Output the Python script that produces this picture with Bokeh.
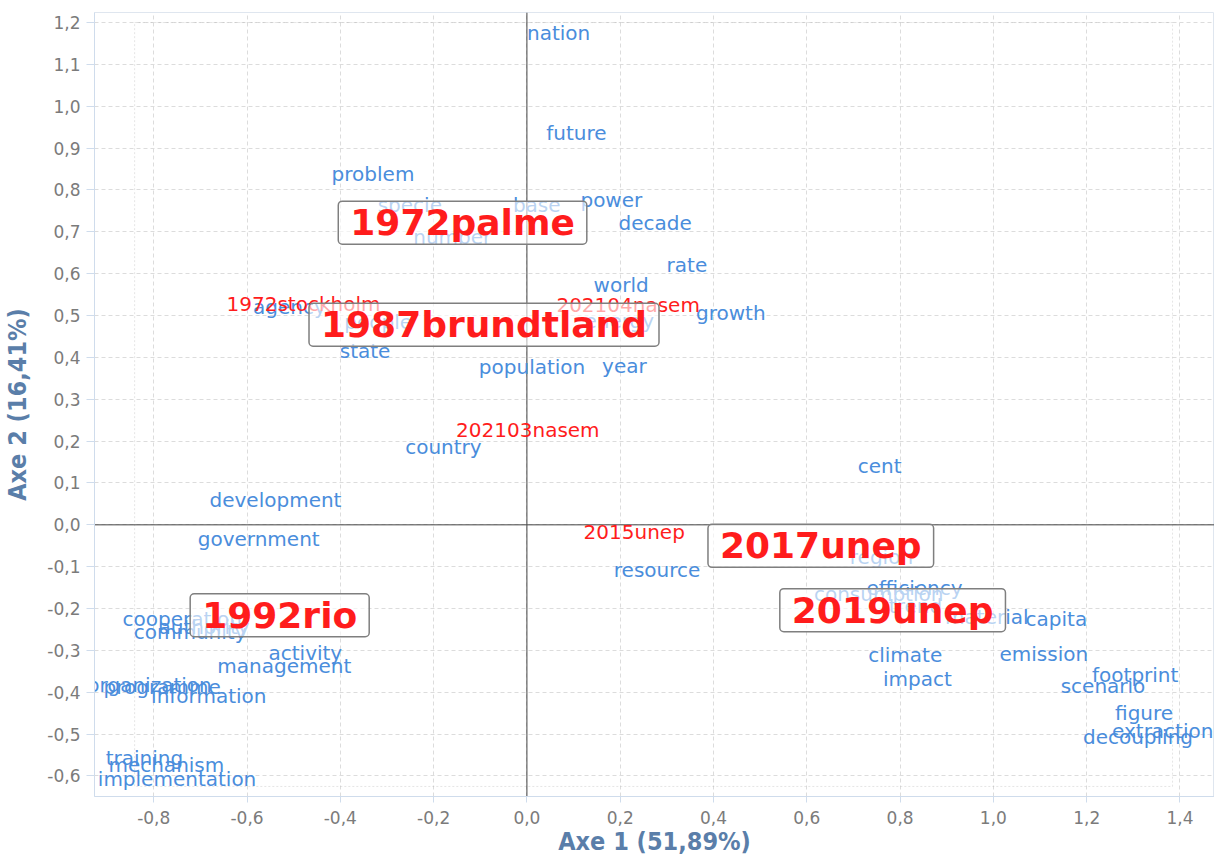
from bokeh.plotting import figure
from bokeh.models import ColumnDataSource, Range1d, FixedTicker, Span, BoxAnnotation
from bokeh.core.properties import value
from bokeh.embed import file_html
from bokeh.resources import INLINE

# ---- data ----
words = ["nation", "future", "problem", "specie", "base", "power", "decade", "number",
         "rate", "world", "agency", "people", "energy", "growth", "state", "population",
         "year", "country", "cent", "development", "government", "resource", "region",
         "consumption", "efficiency", "trend", "material", "capita", "climate", "emission",
         "impact", "footprint", "scenario", "figure", "extraction", "decoupling",
         "cooperation", "authority", "community", "activity", "management", "organization",
         "programme", "information", "training", "mechanism", "implementation"]
word_x = [0.068, 0.106, -0.330, -0.251, 0.021, 0.181, 0.275, -0.160,
          0.343, 0.202, -0.509, -0.319, 0.198, 0.437, -0.347, 0.011,
          0.209, -0.179, 0.756, -0.539, -0.575, 0.279, 0.760,
          0.754, 0.831, 0.833, 0.986, 1.135, 0.811, 1.108,
          0.837, 1.304, 1.235, 1.323, 1.363, 1.310,
          -0.739, -0.692, -0.722, -0.475, -0.520, -0.809,
          -0.782, -0.682, -0.820, -0.773, -0.750]
word_y = [1.176, 0.936, 0.839, 0.765, 0.765, 0.777, 0.722, 0.687,
          0.620, 0.573, 0.520, 0.485, 0.487, 0.506, 0.416, 0.378,
          0.380, 0.185, 0.140, 0.059, -0.033, -0.107, -0.078,
          -0.166, -0.150, -0.193, -0.221, -0.226, -0.311, -0.309,
          -0.368, -0.359, -0.385, -0.449, -0.492, -0.506,
          -0.226, -0.245, -0.257, -0.307, -0.337, -0.383,
          -0.387, -0.409, -0.558, -0.573, -0.608]

docs_small = ["1972stockholm", "202104nasem", "202103nasem", "2015unep"]
docs_small_x = [-0.479, 0.217, 0.002, 0.230]
docs_small_y = [0.528, 0.525, 0.226, -0.017]

docs_big = ["1972palme", "1987brundtland", "2017unep", "2019unep", "1992rio"]
docs_big_x = [-0.138, -0.092, 0.630, 0.784, -0.530]
docs_big_y = [0.722, 0.478, -0.050, -0.204, -0.216]

x_ticks = [-0.8, -0.6, -0.4, -0.2, 0.0, 0.2, 0.4, 0.6, 0.8, 1.0, 1.2, 1.4]
y_ticks = [-0.6, -0.5, -0.4, -0.3, -0.2, -0.1, 0.0, 0.1, 0.2, 0.3, 0.4, 0.5,
           0.6, 0.7, 0.8, 0.9, 1.0, 1.1, 1.2]
extent_x = [-0.841, 1.384]
extent_y = [-0.625, 1.200]

x_title = "Axe 1 (51,89%)"
y_title = "Axe 2 (16,41%)"

BLUE = "#4a8ddc"
RED = "#ff1c1c"
TITLE_COL = "#5a7ea9"
TICK_COL = "#7b7b7b"

p = figure(width=1214, height=858, output_backend="svg", toolbar_location=None,
           x_range=Range1d(-0.927, 1.474), y_range=Range1d(-0.649, 1.224),
           min_border_left=0, min_border_right=0, min_border_top=12, min_border_bottom=0,
           background_fill_color="white", border_fill_color="white")

p.outline_line_color = "#dfe6ef"

for ax, ticks in ((p.xaxis, x_ticks), (p.yaxis, y_ticks)):
    ax.ticker = FixedTicker(ticks=ticks)
    ax.major_label_overrides = {t: f"{t:.1f}".replace(".", ",") for t in ticks}
    ax.major_label_text_font = "DejaVu Sans"
    ax.major_label_text_font_size = "17px"
    ax.major_label_text_color = TICK_COL
    ax.axis_line_color = "#cfdcec"
    ax.major_tick_line_color = "#cfdcec"
    ax.major_tick_out = 6
    ax.major_tick_in = 0
    ax.minor_tick_line_color = None
    ax.axis_label_text_font = "DejaVu Sans Condensed"
    ax.axis_label_text_font_style = "bold"
    ax.axis_label_text_font_size = "25px"
    ax.axis_label_text_color = TITLE_COL

p.yaxis.major_tick_out = 8
p.xaxis.axis_label = x_title
p.yaxis.axis_label = y_title
p.xaxis.major_label_standoff = 8
p.yaxis.major_label_standoff = 6
p.xaxis.axis_label_standoff = 0
p.yaxis.axis_label_standoff = 12

p.grid.grid_line_color = "#dcdcdc"
p.grid.grid_line_dash = "4 3"

p.add_layout(BoxAnnotation(left=extent_x[0], right=extent_x[1], bottom=extent_y[0], top=extent_y[1],
                           fill_alpha=0, line_color="#a8a8a8", line_dash="2 2", line_width=1,
                           level="underlay"))

p.add_layout(Span(location=0, dimension="height", line_color="#444444", line_width=1, level="underlay"))
p.add_layout(Span(location=0, dimension="width", line_color="#444444", line_width=1, level="underlay"))

wsrc = ColumnDataSource(dict(x=word_x, y=word_y, text=words))
p.text(x="x", y="y", text="text", source=wsrc, text_font=value("DejaVu Sans"),
       text_font_size="20px", text_color=BLUE, text_align="center", text_baseline="middle")

ssrc = ColumnDataSource(dict(x=docs_small_x, y=docs_small_y, text=docs_small))
p.text(x="x", y="y", text="text", source=ssrc, text_font=value("DejaVu Sans"),
       text_font_size="20px", text_color=RED, text_align="center", text_baseline="middle")

bsrc = ColumnDataSource(dict(x=docs_big_x, y=docs_big_y, text=docs_big))
p.text(x="x", y="y", text="text", source=bsrc, text_font=value("DejaVu Sans"),
       text_font_style="bold", text_font_size="36px", text_color=RED,
       text_align="center", text_baseline="middle",
       background_fill_color="white", background_fill_alpha=0.62,
       border_line_color="#7f7f7f", border_line_width=1.5, border_radius=4,
       padding=(12, 1))

open("out.html", "w").write(file_html(p, INLINE))
